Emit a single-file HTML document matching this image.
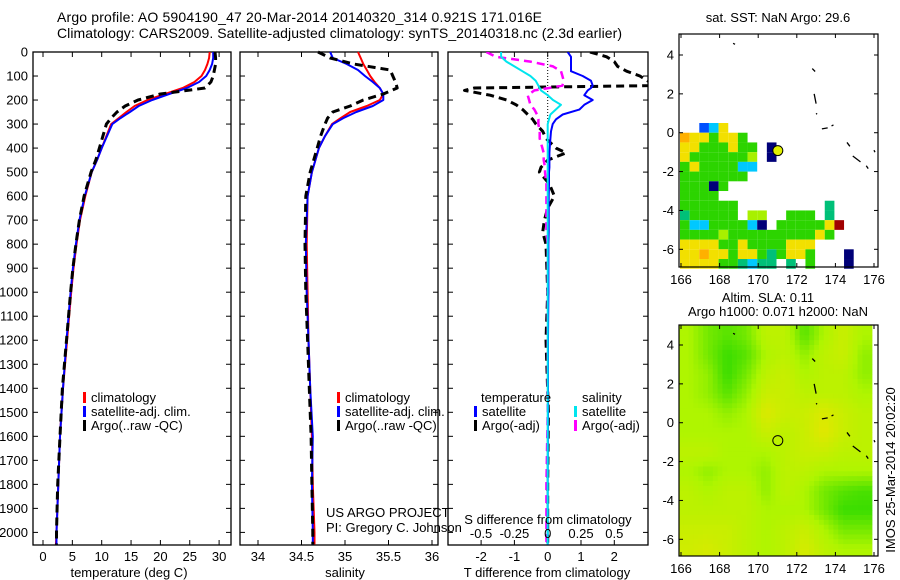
<!DOCTYPE html>
<html><head><meta charset="utf-8">
<style>
html,body{margin:0;padding:0;background:#fff;}
svg{display:block;font-family:"Liberation Sans",sans-serif;}
text{fill:#000;}
</style></head>
<body>
<svg id="fig" width="900" height="580" viewBox="0 0 900 580" xmlns="http://www.w3.org/2000/svg">
<text x="57" y="22" font-size="14" textLength="485">Argo profile: AO 5904190_47 20-Mar-2014 20140320_314 0.921S 171.016E</text>
<text x="57" y="38" font-size="14" textLength="565">Climatology: CARS2009. Satellite-adjusted climatology: synTS_20140318.nc (2.3d earlier)</text>
<g id="p1"></g>
<g id="p2"></g>
<g id="p3"></g>
<g id="m1"></g>
<g id="m2"></g>
<text x="778" y="22" font-size="13" text-anchor="middle">sat. SST: NaN Argo: 29.6</text>
<text x="768" y="302" font-size="13" text-anchor="middle">Altim. SLA: 0.11</text>
<text x="778" y="316" font-size="13" text-anchor="middle">Argo h1000: 0.071 h2000: NaN</text>
<text transform="translate(895,470) rotate(-90)" font-size="13" text-anchor="middle">IMOS 25-Mar-2014 20:02:20</text>
<text x="326" y="517" font-size="13">US ARGO PROJECT</text>
<text x="326" y="532" font-size="13">PI: Gregory C. Johnson</text>
</svg>
<script>
// ---- profile data ----
const tDepth = [0,25,50,75,100,125,150,175,200,225,250,275,300,350,400,450,500,600,700,800,900,1000,1200,1400,1600,1800,2000,2050];
const tClim = [28.4,28.3,28.0,27.6,27.0,25.8,23.8,20.8,17.8,15.6,14.2,12.9,11.6,10.8,10.0,9.2,8.3,7.2,6.3,5.7,5.2,4.8,4.1,3.4,2.9,2.6,2.3,2.2];
const tSat = [29.0,29.0,28.8,28.4,27.8,26.6,24.5,21.5,18.6,16.3,14.8,13.2,11.8,10.9,10.0,9.2,8.3,7.1,6.2,5.6,5.1,4.7,4.0,3.4,2.9,2.6,2.3,2.3];
const tArgo = [29.3,29.4,29.4,29.2,29.0,28.6,27.6,20.0,16.2,14.0,12.6,11.6,10.8,10.2,9.6,9.0,8.2,7.0,6.2,5.6,5.1,4.7,4.0,3.3,2.9,2.5,2.3,2.3];
const sDepth = [0,25,50,75,100,125,150,175,200,225,250,275,300,350,400,500,600,800,1000,1200,1400,1600,1800,2000,2050];
const sClim = [35.15,35.18,35.21,35.25,35.29,35.34,35.40,35.44,35.40,35.25,35.06,34.95,34.85,34.77,34.70,34.62,34.57,34.56,34.57,34.58,34.60,34.62,34.63,34.65,34.65];
const sSat = [34.83,34.86,35.02,35.15,35.23,35.32,35.40,35.44,35.44,35.32,35.13,34.98,34.86,34.77,34.70,34.62,34.57,34.55,34.56,34.58,34.60,34.63,34.62,34.63,34.63];
const sArgo = [34.69,34.83,35.10,35.52,35.55,35.58,35.60,35.44,35.21,35.06,34.86,34.80,34.77,34.72,34.68,34.60,34.55,34.54,34.55,34.57,34.59,34.61,34.62,34.63,34.63];
// differences
const dDepth = [0,20,40,60,80,100,120,140,150,160,180,200,220,240,260,280,300,330,360,400,420,450,480,500,550,600,650,700,750,800,1000,1200,1500,1800,2000,2050];
const dtSat = [0.6,0.7,0.7,0.7,0.7,1.05,1.3,1.35,1.3,1.2,1.1,1.35,1.1,0.95,0.45,0.25,0.15,0.1,0.08,0.06,0.05,0.05,0.05,0.04,0.04,0.03,0.03,0.03,0.03,0.02,0.02,0.01,0.01,0.0,0.0,0.0];
const dtArgo = [1.27,1.77,2.0,2.1,2.37,2.77,3.0,3.2,-2.2,-2.5,-1.73,-1.23,-0.95,-0.75,-0.6,-0.45,-0.35,-0.15,-0.05,0.25,0.55,0.0,-0.2,-0.25,0.05,0.2,0.0,-0.1,-0.15,-0.05,0.0,-0.05,0.02,0.0,0.0,0.0];
const dsSat = [-0.35,-0.35,-0.31,-0.25,-0.19,-0.13,-0.09,-0.07,-0.06,-0.05,0.0,0.04,0.1,0.06,0.02,0.01,0.0,0.0,0.0,0.0,0.0,0.0,0.0,0.0,0.0,0.0,0.0,0.0,0.0,0.0,0.0,0.0,0.0,0.0,0.0,0.0];
const dsArgo = [-0.46,-0.39,-0.13,0.04,0.1,0.11,0.12,0.11,0.01,-0.1,-0.15,-0.14,-0.13,-0.1,-0.08,-0.07,-0.07,-0.06,-0.06,-0.04,-0.03,-0.03,-0.02,-0.02,-0.01,-0.01,-0.01,-0.01,-0.01,0.0,0.0,0.0,0.0,-0.01,-0.01,-0.01];
const depthTicks = [0,100,200,300,400,500,600,700,800,900,1000,1100,1200,1300,1400,1500,1600,1700,1800,1900,2000];
const tempTicks = [0,5,10,15,20,25,30];
const salTicks = [34,34.5,35,35.5,36];
const salTickLabels = ["34","34.5","35","35.5","36"];
const tdTicks = [-2,-1,0,1,2];
const sdTicks = [-0.5,-0.25,0,0.25,0.5];
const sdTickLabels = ["-0.5","-0.25","0","0.25","0.5"];
// ---- map data ----
const lonTicks = [166,168,170,172,174,176];
const latTicks = [4,2,0,-2,-4,-6];
const sstRows = [
"....................","....................","....................","....................",
"....................","....................","....................","....................",
"....................","..bcy...............","oyygyyg.............","yygggygg.n..........",
"yggggggl.n..........","gyggggcc............","ggggggg.............","gggng...............",
"gggg................","gggggg.........t....","tggggg.ll..ggg.t....","gccggggcn.gggggyr...",
"gggglgggggggggyg....","yyyyggyggggyyy......","yyoyygyygtgyyg...n..","yyyyggtctt.t.g...n.."];
const slaGrid = [
[0.5,0.3,0.2,0.3,0.6,0.6,0.2,0.5,0.7,0.5],
[0.5,0.3,0.1,0.2,0.5,0.6,0.4,0.6,0.7,0.4],
[0.5,0.4,0.1,0.3,0.6,0.7,0.5,0.6,0.6,0.4],
[0.5,0.4,0.2,0.4,0.7,0.7,0.6,0.6,0.6,0.5],
[0.5,0.5,0.4,0.5,0.85,0.7,0.7,0.85,0.7,0.6],
[0.5,0.5,0.5,0.5,0.7,0.6,0.7,0.9,0.7,0.6],
[0.6,0.6,0.5,0.5,0.5,0.6,0.7,0.7,0.6,0.6],
[0.5,0.4,0.5,0.5,0.4,0.6,0.6,0.5,0.5,0.5],
[0.6,0.5,0.6,0.6,0.4,0.6,0.5,0.3,0.2,0.15],
[0.6,0.6,0.6,0.6,0.5,0.5,0.5,0.3,0.1,0.1],
[0.7,0.7,0.7,0.6,0.5,0.6,0.7,0.5,0.3,0.3],
[0.75,0.8,0.7,0.6,0.5,0.6,0.8,0.6,0.5,0.5]];
const argoLon = 171.016, argoLat = -0.921;

const NS = "http://www.w3.org/2000/svg";
function mk(parent, tag, attrs){ const e=document.createElementNS(NS,tag); for(const k in attrs) e.setAttribute(k,attrs[k]); parent.appendChild(e); return e; }
const TOP=52, BOT=545;
const yD = d => TOP + d*0.2402;

function panelFrame(g, x0, x1, name){
  const r = mk(g,'rect',{x:x0,y:TOP,width:x1-x0,height:BOT-TOP,fill:'none',stroke:'#000','stroke-width':1.3});
  
  
  depthTicks.forEach(d=>{
    const y=yD(d);
    const t1=mk(g,'line',{x1:x0,x2:x0+5,y1:y,y2:y,stroke:'#000'});
    
    
    const t2=mk(g,'line',{x1:x1-5,x2:x1,y1:y,y2:y,stroke:'#000'});
    
    
  });
}
function xTicks(g, vals, labels, xf, ly, fs){
  vals.forEach((v,i)=>{
    const x=xf(v);
    const a=mk(g,'line',{x1:x,x2:x,y1:BOT,y2:BOT-5,stroke:'#000'});
    
    
    const b=mk(g,'line',{x1:x,x2:x,y1:TOP,y2:TOP+5,stroke:'#000'});
    
    
    const t=mk(g,'text',{x:x,y:ly,'font-size':fs||13,'text-anchor':'middle'});
    t.textContent=labels[i];
    
    
  });
}
function line(g, xs, ds, xf, color, w, dash, name){
  const pts = xs.map((v,i)=>xf(v).toFixed(1)+','+yD(ds[i]).toFixed(1)).join(' ');
  const p=mk(g,'polyline',{points:pts,fill:'none',stroke:color,'stroke-width':w,'stroke-linejoin':'round'});
  if(dash) p.setAttribute('stroke-dasharray',dash);
  
  
}
function legend(g, x, y, color, label){
  const r=mk(g,'rect',{x:x,y:y-10,width:3,height:11,fill:color});
  
  
  const t=mk(g,'text',{x:x+8,y:y,'font-size':13});
  t.textContent=label;
  
  
}

// Panel 1: temperature
const p1=document.getElementById('p1');
const xT = v => 43 + v*5.87;
panelFrame(p1,33,231,'temperature-panel');
depthTicks.forEach(d=>{
  const t=mk(p1,'text',{x:28,y:yD(d)+4.5,'font-size':13,'text-anchor':'end'});
  t.textContent=d;
  
  
});
xTicks(p1,tempTicks,tempTicks.map(String),xT,561);
line(p1,tClim,tDepth,xT,'#ff0000',2,null,'temperature-climatology-line');
line(p1,tSat,tDepth,xT,'#0000ff',2,null,'temperature-satellite-line');
line(p1,tArgo,tDepth,xT,'#000',3,'8,5','temperature-argo-line');
legend(p1,83,402,'#f00','climatology');
legend(p1,83,416,'#00f','satellite-adj. clim.');
legend(p1,83,430,'#000','Argo(..raw -QC)');
{const t=mk(p1,'text',{x:129,y:577,'font-size':13,'text-anchor':'middle'});t.textContent='temperature (deg C)';

}

// Panel 2: salinity
const p2=document.getElementById('p2');
const xS = v => 258 + (v-34)*87;
panelFrame(p2,240,438,'salinity-panel');
xTicks(p2,salTicks,salTickLabels,xS,561);
line(p2,sClim,sDepth,xS,'#ff0000',2,null,'salinity-climatology-line');
line(p2,sSat,sDepth,xS,'#0000ff',2,null,'salinity-satellite-line');
line(p2,sArgo,sDepth,xS,'#000',3,'8,5','salinity-argo-line');
legend(p2,337,402,'#f00','climatology');
legend(p2,337,416,'#00f','satellite-adj. clim.');
legend(p2,337,430,'#000','Argo(..raw -QC)');
{const t=mk(p2,'text',{x:345,y:577,'font-size':13,'text-anchor':'middle'});t.textContent='salinity';

}

// Panel 3: differences
const p3=document.getElementById('p3');
const xTD = v => 547.7 + v*33.3;
const xSD = v => 547.7 + v*133.2;
{const c=mk(p3,'clipPath',{id:'clip3'}); mk(c,'rect',{x:448,y:TOP,width:200,height:BOT-TOP});}
panelFrame(p3,448,648,'difference-panel');
xTicks(p3,tdTicks,tdTicks.map(String),xTD,561);
{const z=mk(p3,'line',{x1:547.7,x2:547.7,y1:TOP,y2:BOT,stroke:'#000','stroke-dasharray':'1,2'});

}
const g3=mk(p3,'g',{'clip-path':'url(#clip3)'});
line(g3,dtArgo,dDepth,xTD,'#000',3,'8,5','t-diff-argo-line');
line(g3,dsArgo,dDepth,xSD,'#ff00ff',2.5,'8,5','s-diff-argo-line');
line(g3,dtSat,dDepth,xTD,'#0000ff',2,null,'t-diff-satellite-line');
line(g3,dsSat,dDepth,xSD,'#00e5ee',2,null,'s-diff-satellite-line');
sdTicks.forEach((v,i)=>{
  const t=mk(p3,'text',{x:xSD(v),y:538,'font-size':13,'text-anchor':'middle'});
  t.textContent=sdTickLabels[i];
  
  
});
{const t=mk(p3,'text',{x:548,y:524,'font-size':13,'text-anchor':'middle'});t.textContent='S difference from climatology';

}
{const t=mk(p3,'text',{x:547,y:577,'font-size':13,'text-anchor':'middle'});t.textContent='T difference from climatology';

}
{const t=mk(p3,'text',{x:481,y:402,'font-size':13});t.textContent='temperature';

}
{const t=mk(p3,'text',{x:582,y:402,'font-size':13});t.textContent='salinity';

}
legend(p3,474,416,'#00f','satellite');
legend(p3,474,430,'#000','Argo(-adj)');
legend(p3,574,416,'#00e5ee','satellite');
legend(p3,574,430,'#f0f','Argo(-adj)');

// Maps
const mxf = lon => 681 + (lon-166)*19.3;
function mapFrame(g, top, bot, latToY, name){
  const r=mk(g,'rect',{x:679,y:top,width:199,height:bot-top,fill:'none',stroke:'#000','stroke-width':1.2});
  
  
  lonTicks.forEach(l=>{
    const x=mxf(l);
    const a=mk(g,'line',{x1:x,x2:x,y1:bot,y2:bot-4,stroke:'#000'});
    
    
    const b=mk(g,'line',{x1:x,x2:x,y1:top,y2:top+4,stroke:'#000'});
    
    
    const t=mk(g,'text',{x:x,y:bot+17,'font-size':13,'text-anchor':'middle'});
    t.textContent=l;
    
    
  });
  latTicks.forEach(l=>{
    const y=latToY(l);
    const a=mk(g,'line',{x1:679,x2:683,y1:y,y2:y,stroke:'#000'});
    
    
    const b=mk(g,'line',{x1:874,x2:878,y1:y,y2:y,stroke:'#000'});
    
    
    const t=mk(g,'text',{x:674,y:y+4.5,'font-size':13,'text-anchor':'end'});
    t.textContent=l;
    
    
  });
}
function coast(g, latToY){
  const segs=[[168.7,4.6,168.8,4.55],[172.8,3.3,172.95,3.15],[172.9,2.0,173.0,1.5],[173.0,1.0,173.05,0.95],[173.3,0.2,173.6,0.25],[173.8,0.35,173.9,0.4],[174.6,-0.5,174.75,-0.7],[174.9,-1.2,175.3,-1.5],[175.6,-1.7,175.7,-1.85],[176.0,-0.9,176.05,-1.0]];
  segs.forEach(s=>{
    const p=mk(g,'line',{x1:mxf(s[0]),y1:latToY(s[1]),x2:mxf(s[2]),y2:latToY(s[3]),stroke:'#000','stroke-width':1.3});
    
    
  });
}
const sstColors={g:'#2cd400',y:'#f2e000',o:'#ffb000',c:'#00c8ff',b:'#0050ff',n:'#000078',r:'#a00000',t:'#00c078',l:'#a8f000'};
const m1=document.getElementById('m1');
const y1f = lat => 55 + (4-lat)*19.43;
sstRows.forEach((row,ri)=>{
  [...row].forEach((ch,ci)=>{
    if(ch==='.') return;
    const lat=5-ri*0.5, lon=166+ci*0.5;
    const r=mk(m1,'rect',{x:mxf(lon)-1,y:y1f(lat),width:9.65,height:9.72,fill:sstColors[ch]});
    
    
  });
});
mapFrame(m1,34,267,y1f,'sst-map');
coast(m1,y1f);
{const c=mk(m1,'circle',{cx:mxf(argoLon),cy:y1f(argoLat),r:5,fill:'#e0f000',stroke:'#000'});

}

const m2=document.getElementById('m2');
const y2f = lat => 345 + (4-lat)*19.43;
function slaColor(v){
  const a=[30,215,0], b=[175,245,0], c=[238,228,0];
  let s,e,t;
  if(v<0.5){s=a;e=b;t=v/0.5;} else {s=b;e=c;t=(v-0.5)/0.5;}
  t=Math.max(0,Math.min(1,t));
  return 'rgb('+s.map((x,i)=>Math.round(x+(e[i]-x)*t)).join(',')+')';
}
// bilinear upsample of the grid (cell centres) into 0.25-degree cells
const SUB=4, nR=slaGrid.length, nC=slaGrid[0].length;
function slaAt(fr, fc){
  const r=Math.max(0,Math.min(nR-1,fr)), c=Math.max(0,Math.min(nC-1,fc));
  const r0=Math.floor(r), c0=Math.floor(c), r1=Math.min(nR-1,r0+1), c1=Math.min(nC-1,c0+1);
  const tr=r-r0, tc=c-c0;
  return slaGrid[r0][c0]*(1-tr)*(1-tc)+slaGrid[r0][c1]*(1-tr)*tc+slaGrid[r1][c0]*tr*(1-tc)+slaGrid[r1][c1]*tr*tc;
}
for(let i=0;i<nR*SUB;i++){
  for(let j=0;j<nC*SUB;j++){
    const v=slaAt((i+0.5)/SUB-0.5,(j+0.5)/SUB-0.5);
    const lat=5-i/SUB, lon=166+j/SUB;
    const r=mk(m2,'rect',{x:mxf(lon)-2,y:y2f(lat),width:19.3/SUB+0.4,height:19.43/SUB+0.4,fill:slaColor(v)});
    
    
  }
}
mk(m2,'rect',{x:878.6,y:320,width:10,height:240,fill:'#fff'});
mk(m2,'rect',{x:670,y:556,width:210,height:24,fill:'#fff'});
mk(m2,'rect',{x:670,y:300,width:210,height:25,fill:'#fff'});
mapFrame(m2,325,556,y2f,'sla-map');
coast(m2,y2f);
{const c=mk(m2,'circle',{cx:mxf(argoLon),cy:y2f(argoLat),r:5,fill:'none',stroke:'#000'});

}
</script>
</body></html>
